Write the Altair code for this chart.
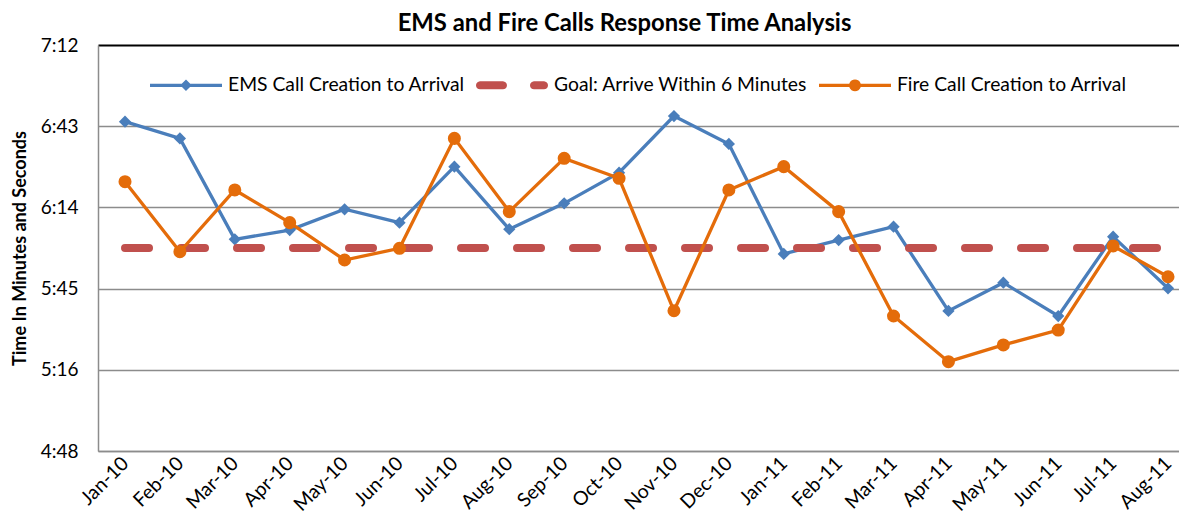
import json
import math
import altair as alt
import pandas as pd

months = ["Jan-10", "Feb-10", "Mar-10", "Apr-10", "May-10", "Jun-10", "Jul-10",
          "Aug-10", "Sep-10", "Oct-10", "Nov-10", "Dec-10", "Jan-11", "Feb-11",
          "Mar-11", "Apr-11", "May-11", "Jun-11", "Jul-11", "Aug-11"]
# response times in decimal minutes
ems = [6.747, 6.648, 6.051, 6.106, 6.229, 6.150, 6.481, 6.111, 6.264, 6.445,
       6.780, 6.615, 5.965, 6.047, 6.126, 5.628, 5.795, 5.598, 6.067, 5.762]
fire = [6.392, 5.978, 6.343, 6.150, 5.929, 5.998, 6.648, 6.215, 6.530, 6.412,
        5.629, 6.343, 6.481, 6.215, 5.598, 5.328, 5.427, 5.515, 6.012, 5.830]
goal = [6.0] * len(months)

series_names = ["EMS Call Creation to Arrival", "Goal: Arrive Within 6 Minutes",
                "Fire Call Creation to Arrival"]
series_colors = ["#4A7EBB", "#C0504D", "#E46C0A"]

tick_vals = [4.8, 5.28, 5.76, 6.24, 6.72, 7.2]
tick_labels = ["4:48", "5:16", "5:45", "6:14", "6:43", "7:12"]

FONT = "Lato"

rows = []
for name, vals in zip(series_names, [ems, goal, fire]):
    for m, v in zip(months, vals):
        rows.append({"month": m, "value": v, "series": name})
df = pd.DataFrame(rows)

label_expr = f"{json.dumps(tick_labels)}[indexof({json.dumps(tick_vals)}, datum.value)]"

x_enc = alt.X("month:O", sort=months,
              scale=alt.Scale(type="point", padding=0.346, align=0.711),
              axis=alt.Axis(title=None, labelAngle=-45, labelAlign="right",
                            labelBaseline="middle", labelFontSize=19.5,
                            labelFont=FONT, labelColor="#000000", ticks=False,
                            labelPadding=9, domainColor="#8c8c8c",
                            domainWidth=1.5, labelOverlap=False))
y_enc = alt.Y("value:Q",
              scale=alt.Scale(domain=[4.8, 7.2], nice=False, zero=False),
              axis=alt.Axis(values=tick_vals, labelExpr=label_expr,
                            title="Time In Minutes and Seconds",
                            titleFont=FONT, titleFontSize=18, titleFontWeight="bold",
                            titleColor="#000000", titlePadding=11,
                            labelFont=FONT, labelFontSize=19, labelColor="#000000",
                            labelPadding=20, ticks=False,
                            domainColor="#8c8c8c", domainWidth=1.5,
                            grid=True,
                            gridColor={"condition": {"test": "datum.value >= 7.19", "value": "#000000"},
                                       "value": "#8c8c8c"},
                            gridWidth={"condition": {"test": "datum.value >= 7.19", "value": 2},
                                       "value": 1.5}))

base = alt.Chart(df).encode(x=x_enc, y=y_enc)


def sel(name):
    return alt.datum.series == name


ems_line = base.transform_filter(sel(series_names[0])).mark_line(
    color=series_colors[0], strokeWidth=3.3)
ems_pts = base.transform_filter(sel(series_names[0])).mark_point(
    shape="diamond", filled=True, size=150, color=series_colors[0], opacity=1)
goal_line = base.transform_filter(sel(series_names[1])).mark_line(
    color=series_colors[1], strokeWidth=8, strokeDash=[24, 32], strokeCap="round")
fire_line = base.transform_filter(sel(series_names[2])).mark_line(
    color=series_colors[2], strokeWidth=3.3)
fire_pts = base.transform_filter(sel(series_names[2])).mark_point(
    shape="circle", filled=True, size=170, color=series_colors[2], opacity=1)


# legend symbols: line + marker drawn as custom symbol shapes (unit space -1..1)
def fmt(v):
    return f"{v:.4f}"


def capsule(x0, x1, r, n=8):
    # rounded dash from x0 to x1 (centre-line), half height r
    pts = []
    for i in range(n + 1):
        a = -math.pi / 2 + math.pi * i / n
        pts.append((x1 + r * math.cos(a), r * math.sin(a)))
    for i in range(n + 1):
        a = math.pi / 2 + math.pi * i / n
        pts.append((x0 + r * math.cos(a), r * math.sin(a)))
    return "M" + "L".join(f"{fmt(x)},{fmt(y)}" for x, y in pts) + "Z"


def circle(r, n=20):
    pts = [(r * math.cos(2 * math.pi * i / n), r * math.sin(2 * math.pi * i / n)) for i in range(n)]
    return "M" + "L".join(f"{fmt(x)},{fmt(y)}" for x, y in pts) + "Z"


line_bar = "M-1,-0.045L1,-0.045L1,0.045L-1,0.045Z"
ems_sym = line_bar + " M0,-0.16L0.16,0L0,0.16L-0.16,0Z"
fire_sym = line_bar + " " + circle(0.165)
goal_sym = capsule(-0.889, -0.251, 0.111) + " " + capsule(0.611, 0.889, 0.111)

legend_kw = dict(title=None, orient="none", legendX=52, legendY=4,
                 direction="horizontal", columns=3,
                 symbolSize=5184, symbolOpacity=1, symbolStrokeWidth=0,
                 labelFont=FONT, labelFontSize=19.3, labelColor="#000000",
                 labelOffset=6, columnPadding=11, labelLimit=400)

legend_layer = base.mark_point(filled=True, opacity=0, size=10).encode(
    color=alt.Color("series:N",
                    scale=alt.Scale(domain=series_names, range=series_colors),
                    legend=alt.Legend(**legend_kw)),
    shape=alt.Shape("series:N",
                    scale=alt.Scale(domain=series_names,
                                    range=[ems_sym, goal_sym, fire_sym]),
                    legend=alt.Legend(**legend_kw)),
)

chart = alt.layer(ems_line, ems_pts, goal_line, fire_line, fire_pts, legend_layer).properties(
    width=1081, height=406,
    title=alt.TitleParams("EMS and Fire Calls Response Time Analysis",
                          font=FONT, fontSize=23.8, fontWeight="bold", color="#000000",
                          anchor="middle", dx=-14, offset=0),
    padding={"left": 90, "top": 37, "right": 0, "bottom": 70},
    autosize=alt.AutoSizeParams(type="none"),
).configure_view(stroke=None).configure(background="#ffffff")

chart.save("out.html", embed_options={"renderer": "svg", "actions": False})
